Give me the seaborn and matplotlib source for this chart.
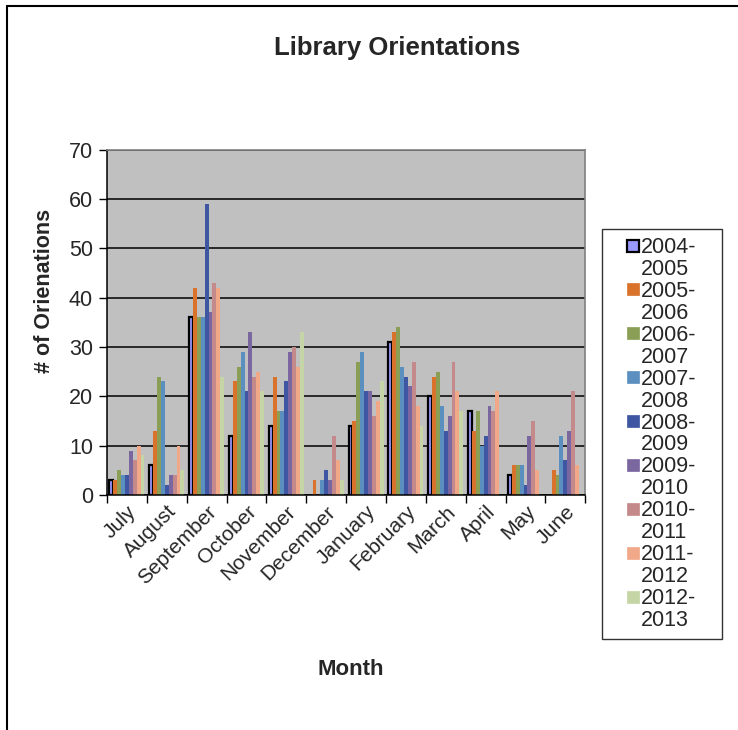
import pandas as pd
import seaborn as sns
import matplotlib.pyplot as plt
from matplotlib.patches import Patch
from matplotlib.lines import Line2D
from matplotlib.ticker import FixedLocator


months = ["July", "August", "September", "October", "November", "December",
          "January", "February", "March", "April", "May", "June"]
seasons = ["2004-2005", "2005-2006", "2006-2007", "2007-2008", "2008-2009",
           "2009-2010", "2010-2011", "2011-2012", "2012-2013"]

s2004_05 = [3, 6, 36, 12, 14, 0, 14, 31, 20, 17, 4, 0]
s2005_06 = [3, 13, 42, 23, 24, 3, 15, 33, 24, 13, 6, 5]
s2006_07 = [5, 24, 36, 26, 17, 0, 27, 34, 25, 17, 6, 4]
s2007_08 = [4, 23, 36, 29, 17, 3, 29, 26, 18, 10, 6, 12]
s2008_09 = [4, 2, 59, 21, 23, 5, 21, 24, 13, 12, 2, 7]
s2009_10 = [9, 4, 37, 33, 29, 3, 21, 22, 16, 18, 12, 13]
s2010_11 = [7, 4, 43, 24, 30, 12, 16, 27, 27, 17, 15, 21]
s2011_12 = [10, 10, 42, 25, 26, 7, 19, 18, 21, 21, 5, 6]
s2012_13 = [8, 5, 24, 21, 33, 3, 23, 14, 17, 0, 0, 0]

season_colors = ["#9999FF", "#D9722B", "#8A9F55", "#5B8FBF", "#3F57A2",
                 "#7B67A0", "#C4898A", "#F0A888", "#C5D5A5"]


def build_frame() -> pd.DataFrame:
    series = [s2004_05, s2005_06, s2006_07, s2007_08, s2008_09,
              s2009_10, s2010_11, s2011_12, s2012_13]
    rows = []
    for season, values in zip(seasons, series):
        for month, value in zip(months, values):
            rows.append({"month": month, "season": season, "count": value})
    return pd.DataFrame(rows)


def plot_orientations(df: pd.DataFrame) -> None:
    sns.set_style("white")
    plt.rcParams["font.family"] = ["Liberation Sans", "DejaVu Sans"]

    fig = plt.figure(figsize=(7.38, 7.30), dpi=100)
    ax = fig.add_axes([0.145, 0.322, 0.648, 0.473])
    ax.set_facecolor("#C0C0C0")

    sns.barplot(data=df, x="month", y="count", hue="season", order=months,
                hue_order=seasons, palette=season_colors, width=0.88,
                saturation=1, linewidth=0, legend=False, ax=ax)

    # first season gets the black outline, as in the original
    for bar in ax.containers[0]:
        if bar.get_height() > 0:
            bar.set_edgecolor("black")
            bar.set_linewidth(1.6)
        else:
            bar.set_visible(False)

    ax.set_ylim(0, 70)
    ax.set_xlim(-0.5, len(months) - 0.5)
    ax.set_yticks(range(0, 71, 10))
    ax.set_axisbelow(True)
    ax.yaxis.grid(True, color="black", linewidth=1.1)
    ax.xaxis.grid(False)

    for side in ["top", "right"]:
        ax.spines[side].set_color("#808080")
        ax.spines[side].set_linewidth(1.2)
    for side in ["left", "bottom"]:
        ax.spines[side].set_color("black")
        ax.spines[side].set_linewidth(1.1)

    ax.tick_params(axis="y", direction="out", length=6, width=1, color="black",
                   labelsize=15.5, left=True, pad=4)
    ax.tick_params(axis="x", which="major", length=0, labelsize=15, pad=5)
    ax.xaxis.set_minor_locator(FixedLocator([i - 0.5 for i in range(len(months) + 1)]))
    ax.tick_params(axis="x", which="minor", direction="out", length=6, width=1,
                   color="black", bottom=True)
    plt.setp(ax.get_xticklabels(), rotation=45, ha="right", rotation_mode="anchor")

    ax.set_xlabel("")
    ax.set_ylabel("# of Orienations", weight="bold", size=15.5)
    ax.yaxis.label.set_va("center")
    ax.yaxis.set_label_coords(-0.13, 0.59)

    fig.text(0.538, 0.934, "Library Orientations", weight="bold", size=18.5,
             ha="center", va="center")
    fig.text(0.475, 0.083, "Month", weight="bold", size=16,
             ha="center", va="center")

    # legend: one row per text line, square marker on the first line only
    handles, labels = [], []
    for i, (season, color) in enumerate(zip(seasons, season_colors)):
        first, second = season.split("-")
        edge = "black" if i == 0 else color
        handles.append(Line2D([], [], linestyle="none", marker="s", markersize=8,
                              markerfacecolor=color, markeredgecolor=edge,
                              markeredgewidth=1.6 if i == 0 else 0.5))
        labels.append(first + "-")
        handles.append(Patch(facecolor="none", edgecolor="none"))
        labels.append(second)
    leg = fig.legend(handles, labels, loc="upper left",
                     bbox_to_anchor=(0.816, 0.686, 0.1626, 0.0), mode="expand",
                     frameon=True, fancybox=False,
                     fontsize=15.5, handlelength=2.2, handleheight=0.6,
                     handletextpad=-0.75, labelspacing=0.045, borderpad=0.35,
                     borderaxespad=0)
    leg.get_frame().set_edgecolor("black")
    leg.get_frame().set_linewidth(1.0)

    fig.add_artist(Line2D([0.0095, 0.0095], [0.0, 0.992], color="black", linewidth=1.5))
    fig.add_artist(Line2D([0.0095, 1.0], [0.992, 0.992], color="black", linewidth=1.5))

    fig.savefig("out.png", dpi=100, facecolor="white")


plot_orientations(build_frame())
